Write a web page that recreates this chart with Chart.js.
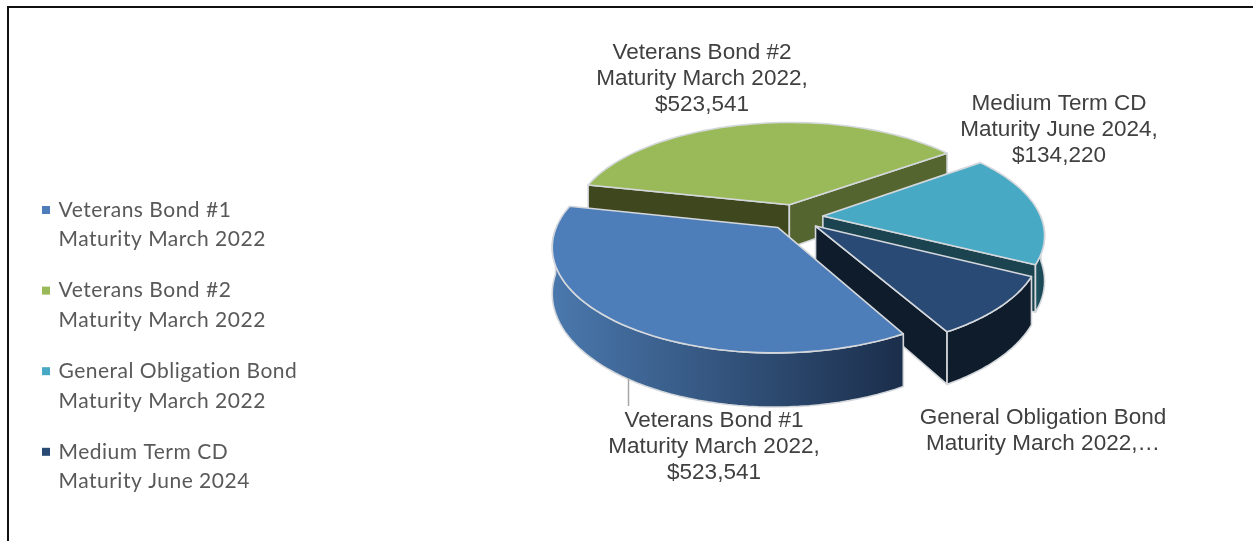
<!DOCTYPE html>
<html>
<head>
<meta charset="utf-8">
<script src="https://cdn.jsdelivr.net/npm/chart.js@4"></script>
<style>
  html, body { margin: 0; padding: 0; background: #fff; overflow: hidden; }
  #wrap { position: relative; width: 1253px; height: 541px; }
  #chart { position: absolute; left: 0; top: 0; }
  #frame { position: absolute; left: 7px; top: 6px; right: 0; bottom: 0; border-left: 2px solid #111; border-top: 2px solid #111; }
</style>
</head>
<body>
<div id="wrap">
  <canvas id="chart" width="1253" height="541"></canvas>
  <div id="frame"></div>
</div>
<script>
// data (General Obligation value is cut off in the original)
const legendNames = [
    ['Veterans Bond #1', 'Maturity March 2022'],
    ['Veterans Bond #2', 'Maturity March 2022'],
    ['General Obligation Bond', 'Maturity March 2022'],
    ['Medium Term CD', 'Maturity June 2024']
];
const values = [523541, 523541, 250000, 134220];

// labels as they sit on the original chart
const pieLabels = [
    ['Veterans Bond #1', 'Maturity March 2022,', '$523,541'],
    ['Veterans Bond #2', 'Maturity March 2022,', '$523,541'],
    ['Medium Term CD', 'Maturity June 2024,', '$134,220'],
    ['General Obligation Bond', 'Maturity March 2022,…']
];
const labelX = [714, 702, 1059, 1043];
const labelY = [420.5, 53, 104, 418];

const topColors = ['#4d7eb9', '#9aba59', '#48a9c4', '#294a75'];
const startWallColors = ['#1f3350', '#3f471f', '#1b4350', '#0e1c2c'];
const endWallColors = ['#1f3350', '#55652f', '#1b4350', '#0e1c2c'];
const outerLeft = ['#4a78ad', '#55652f', '#1f5564', '#0e1c2c'];
const outerRight = ['#1b2e4b', '#55652f', '#1b4350', '#0e1c2c'];
const drawOrder = [1, 2, 3, 0];

const squash = 0.459;   // tilt of the pie
const perspective = 0.17;
const depth = 44;

function project(arc, u, v, h) {
    const w = 1 - perspective * v / arc.outerRadius;
    return [arc.x + u / w, arc.y + squash * v / w + h / w];
}

function slicePoints(arc) {
    const R = arc.outerRadius;
    const mid = (arc.startAngle + arc.endAngle) / 2;
    const ox = Math.cos(mid) * arc.options.offset;
    const oy = Math.sin(mid) * arc.options.offset;
    const rim = [];
    const front = [];
    const steps = 60;
    for (let i = 0; i <= steps; i++) {
        const a = arc.startAngle + (arc.endAngle - arc.startAngle) * i / steps;
        const p = [ox + Math.cos(a) * R, oy + Math.sin(a) * R];
        rim.push(p);
        if (Math.sin(a) > 0) front.push(p); // only the part facing us has a visible outer wall
    }
    return { apex: [ox, oy], rim: rim, front: front };
}

function fillPoly(ctx, pts, fill) {
    ctx.beginPath();
    pts.forEach((p, i) => i ? ctx.lineTo(p[0], p[1]) : ctx.moveTo(p[0], p[1]));
    ctx.closePath();
    ctx.fillStyle = fill;
    ctx.fill();
    ctx.strokeStyle = '#d4d8dc';
    ctx.lineWidth = 1.6;
    ctx.lineJoin = 'round';
    ctx.stroke();
}

function wall(arc, a, b) {
    return [
        project(arc, a[0], a[1], 0), project(arc, b[0], b[1], 0),
        project(arc, b[0], b[1], depth), project(arc, a[0], a[1], depth)
    ];
}

const pie3d = {
    id: 'pie3d',
    beforeDatasetsDraw(chart) {
        const ctx = chart.ctx;
        const arcs = chart.getDatasetMeta(0).data;
        ctx.save();
        drawOrder.forEach(i => {
            const arc = arcs[i];
            const s = slicePoints(arc);
            // inner walls, skip those facing away
            if (Math.sin(arc.startAngle - Math.PI / 2) > 0) {
                fillPoly(ctx, wall(arc, s.apex, s.rim[0]), startWallColors[i]);
            }
            if (Math.sin(arc.endAngle + Math.PI / 2) > 0) {
                fillPoly(ctx, wall(arc, s.apex, s.rim[s.rim.length - 1]), endWallColors[i]);
            }
            // outer curved wall
            if (s.front.length > 1) {
                const upper = s.front.map(p => project(arc, p[0], p[1], 0));
                const lower = s.front.map(p => project(arc, p[0], p[1], depth)).reverse();
                const xs = upper.map(p => p[0]);
                const grad = ctx.createLinearGradient(Math.min(...xs), 0, Math.max(...xs), 0);
                grad.addColorStop(0, outerLeft[i]);
                grad.addColorStop(1, outerRight[i]);
                fillPoly(ctx, upper.concat(lower), grad);
            }
            // top face
            const top = s.rim.map(p => project(arc, p[0], p[1], 0));
            fillPoly(ctx, [project(arc, s.apex[0], s.apex[1], 0)].concat(top), topColors[i]);
        });
        ctx.restore();
        return false; // the slices are done, skip the flat ones
    }
};

const textBits = {
    id: 'textBits',
    afterDraw(chart) {
        const ctx = chart.ctx;
        ctx.save();
        // leader line of the first label
        ctx.strokeStyle = '#a6a6a6';
        ctx.lineWidth = 1.5;
        ctx.beginPath();
        ctx.moveTo(628.5, 378);
        ctx.lineTo(628.5, 406);
        ctx.stroke();

        // labels on the pie
        ctx.font = '22.5px "Liberation Sans"';
        ctx.fillStyle = '#404040';
        ctx.textAlign = 'center';
        ctx.textBaseline = 'middle';
        pieLabels.forEach((lines, i) => {
            lines.forEach((t, j) => ctx.fillText(t, labelX[i], labelY[i] + j * 26));
        });

        // legend on the left
        ctx.font = '21px Lato';
        ctx.letterSpacing = '0.5px';
        ctx.textAlign = 'left';
        legendNames.forEach((lines, i) => {
            const y = 210 + i * 80.6;
            ctx.fillStyle = topColors[i];
            ctx.fillRect(42, y - 4, 8, 8);
            ctx.fillStyle = '#595959';
            lines.forEach((t, j) => ctx.fillText(t, 58.5, y + j * 29.7));
        });
        ctx.restore();
    }
};

new Chart(document.getElementById('chart').getContext('2d'), {
    type: 'pie',
    data: {
        labels: legendNames.map(n => n.join(' ')),
        datasets: [{
            data: values,
            backgroundColor: topColors,
            offset: 28
        }]
    },
    options: {
        responsive: false,
        animation: false,
        rotation: 150.6,
        radius: 218,
        layout: { padding: { left: 578, right: 241, top: 0, bottom: 107 } },
        plugins: { legend: { display: false }, tooltip: { enabled: false } }
    },
    plugins: [pie3d, textBits]
});
</script>
</body>
</html>
